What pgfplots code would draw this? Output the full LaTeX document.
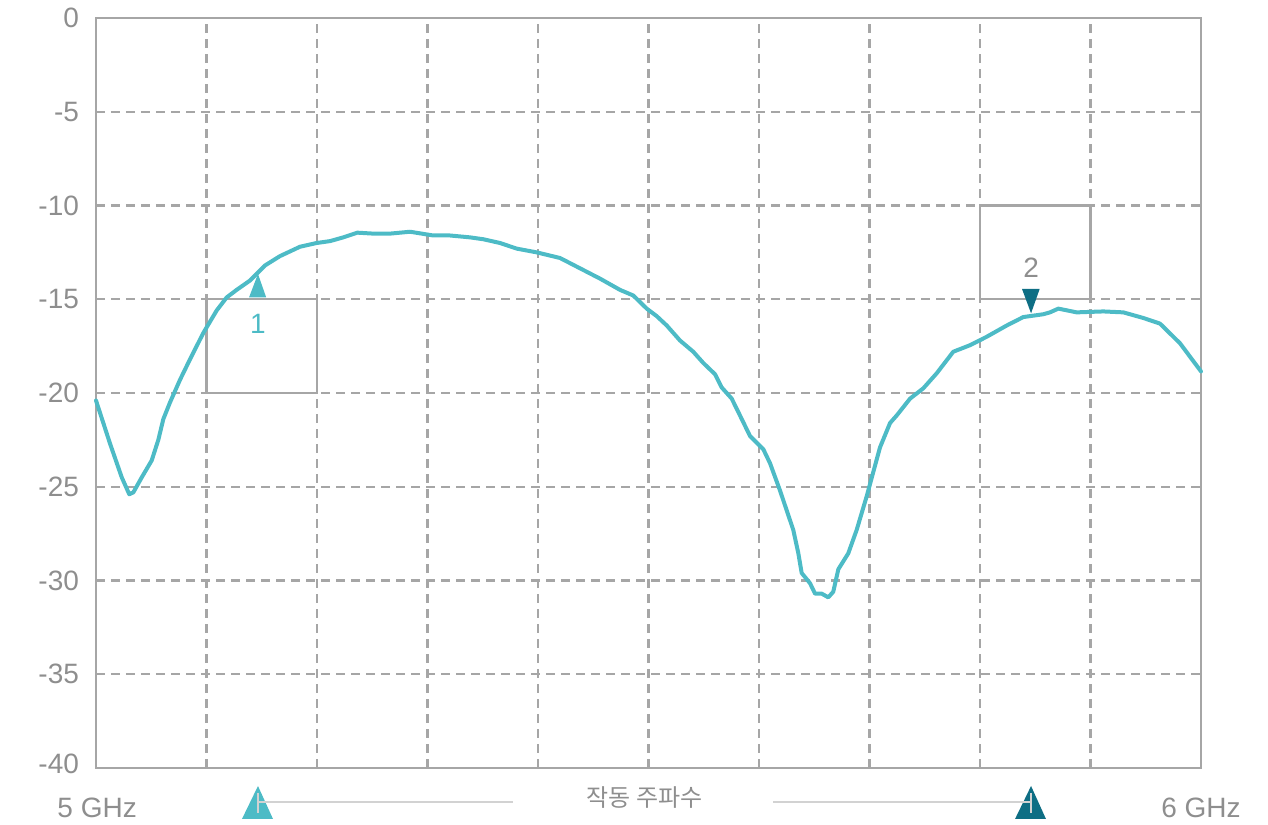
\documentclass[border=0pt]{standalone}
\usepackage{pgfplots}
\pgfplotsset{compat=1.18}
\usepackage{fontspec}
\setmainfont{Liberation Sans}
\newfontfamily\krfont{Noto Sans CJK KR}
\definecolor{curve}{HTML}{4DBBC6}
\definecolor{mk2}{HTML}{0E6E84}
\definecolor{axgray}{HTML}{A6A6A6}
\definecolor{txtgray}{HTML}{8E8E8E}
\definecolor{slgray}{HTML}{D2D2D2}
\pgfplotstableread{
x y
5.0000 -20.4
5.0127 -22.7
5.0233 -24.5
5.0301 -25.4
5.0338 -25.3
5.0414 -24.5
5.0504 -23.6
5.0564 -22.5
5.0609 -21.4
5.0670 -20.5
5.0760 -19.3
5.0851 -18.2
5.0971 -16.8
5.1092 -15.6
5.1183 -14.9
5.1273 -14.5
5.1394 -14.0
5.1529 -13.2
5.1665 -12.7
5.1846 -12.2
5.1997 -12.0
5.2118 -11.9
5.2238 -11.7
5.2365 -11.45
5.2510 -11.5
5.2661 -11.5
5.2842 -11.4
5.3052 -11.6
5.3204 -11.6
5.3385 -11.7
5.3505 -11.8
5.3656 -12.0
5.3807 -12.3
5.3988 -12.5
5.4199 -12.8
5.4380 -13.35
5.4561 -13.9
5.4742 -14.5
5.4862 -14.8
5.4984 -15.5
5.5074 -15.9
5.5165 -16.4
5.5285 -17.2
5.5405 -17.8
5.5496 -18.4
5.5602 -19.0
5.5662 -19.7
5.5753 -20.3
5.5828 -21.2
5.5919 -22.3
5.6039 -23.0
5.6100 -23.75
5.6190 -25.2
5.6310 -27.3
5.6356 -28.55
5.6386 -29.6
5.6462 -30.15
5.6507 -30.7
5.6567 -30.7
5.6627 -30.9
5.6672 -30.6
5.6718 -29.4
5.6808 -28.55
5.6884 -27.3
5.6975 -25.5
5.7095 -22.9
5.7186 -21.6
5.7246 -21.2
5.7367 -20.3
5.7487 -19.75
5.7608 -18.95
5.7758 -17.8
5.7910 -17.45
5.8061 -17.0
5.8242 -16.4
5.8392 -15.95
5.8573 -15.8
5.8633 -15.7
5.8709 -15.5
5.8875 -15.7
5.9116 -15.65
5.9297 -15.7
5.9478 -16.0
5.9629 -16.3
5.9810 -17.35
6.0000 -18.85
}\curvedata
\begin{document}
\begin{tikzpicture}
\begin{axis}[
  at={(48pt,28pt)}, anchor=south west,
  scale only axis, width=552.5pt, height=375pt,
  xmin=5, xmax=6, ymin=-40, ymax=0,
  xtick={5,5.1,...,6.05}, xticklabels={},
  ytick={-40,-35,-30,-25,-20,-15,-10,-5,0},
  yticklabels={\raisebox{4pt}{-40},-35,-30,-25,-20,-15,-10,-5,0},
  tick pos=left, tick align=inside,
  major tick length=2.5pt,
  tick style={axgray, line width=1pt},
  grid=major,
  major grid style={axgray, line width=1.1pt, dash pattern=on 4.5pt off 3pt},
  axis line style={axgray, line width=1.4pt},
  yticklabel style={font=\fontsize{14}{16}\selectfont, text=txtgray, xshift=-5pt},
  clip=false,
]
% boxes
\addplot[axgray, line width=1.1pt] coordinates {(5.1,-15) (5.2,-15) (5.2,-20) (5.1,-20) (5.1,-15)};
\addplot[axgray, line width=1.1pt] coordinates {(5.8,-10) (5.9,-10) (5.9,-15) (5.8,-15) (5.8,-10)};
% curve
\addplot[curve, line width=2pt, line join=round, line cap=round] table[x=x,y=y] {\curvedata};
% marker 1
\addplot[fill=curve, draw=none] coordinates {(5.1385,-14.9) (5.1540,-14.9) (5.1466,-13.65)} -- cycle;
\node[text=curve, font=\fontsize{14}{16}\selectfont] at (axis cs:5.1466,-16.3) {1};
% marker 2
\addplot[fill=mk2, draw=none] coordinates {(5.8380,-14.45) (5.8540,-14.45) (5.8462,-15.75)} -- cycle;
\node[text=txtgray, font=\fontsize{14}{16}\selectfont] at (axis cs:5.8462,-13.3) {2};
% slider
\addplot[slgray, line width=0.8pt] coordinates {(5.1466,-41.81) (5.3774,-41.81)};
\addplot[slgray, line width=0.8pt] coordinates {(5.6127,-41.81) (5.8462,-41.81)};
\addplot[fill=curve, draw=none] coordinates {(5.1321,-42.72) (5.1602,-42.72) (5.1466,-40.96)} -- cycle;
\addplot[fill=mk2, draw=none] coordinates {(5.8317,-42.72) (5.8597,-42.72) (5.8462,-40.96)} -- cycle;
\addplot[slgray, line width=0.9pt] coordinates {(5.1466,-41.33) (5.1466,-42.4)};
\addplot[slgray, line width=0.9pt] coordinates {(5.8462,-41.33) (5.8462,-42.4)};
\addplot[slgray, line width=0.8pt] coordinates {(5.1466,-41.81) (5.1600,-41.81)};
\addplot[slgray, line width=0.8pt] coordinates {(5.8320,-41.81) (5.8462,-41.81)};
\node[text=txtgray, font=\krfont\fontsize{12}{14}\selectfont] at (axis cs:5.4964,-41.6) {작동 주파수};
\node[text=txtgray, font=\fontsize{14}{16}\selectfont] at (axis cs:5.001,-42.1) {5 GHz};
\node[text=txtgray, font=\fontsize{14}{16}\selectfont] at (axis cs:6.0,-42.1) {6 GHz};
\end{axis}
\pgfresetboundingbox
\path[use as bounding box] (0,0) rectangle (634pt,412pt);
\end{tikzpicture}
\end{document}
